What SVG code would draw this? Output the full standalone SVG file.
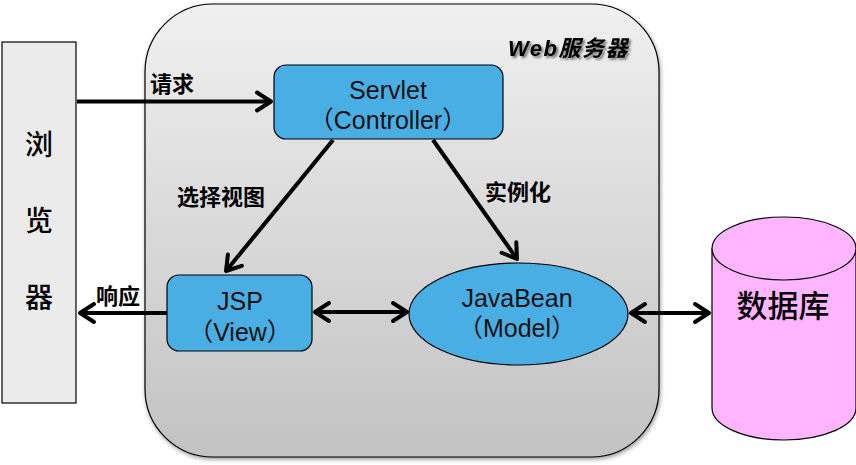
<svg xmlns="http://www.w3.org/2000/svg" width="856" height="465" viewBox="0 0 856 465">
<style>
.en{font-family:"Liberation Sans","Noto Sans CJK SC",sans-serif;font-size:25px;fill:#111;text-anchor:middle}
.cn{font-family:"Noto Sans CJK SC",sans-serif;font-weight:500;fill:#000;text-anchor:middle}
.lbl{font-family:"Noto Sans CJK SC",sans-serif;font-size:22px;font-weight:bold;fill:#000}
.blue{fill:#48AEE3;stroke:#000;stroke-width:1.2}
.conn{stroke:#000;stroke-width:4;fill:none}
</style>
<defs>
<linearGradient id="srv" x1="0" y1="0" x2="0" y2="1">
<stop offset="0" stop-color="#f0f0f0"/>
<stop offset="1" stop-color="#c2c2c2"/>
</linearGradient>
<filter id="sh" x="-10%" y="-10%" width="120%" height="120%">
<feGaussianBlur in="SourceAlpha" stdDeviation="2"/>
<feOffset dx="1" dy="2" result="b"/>
<feComponentTransfer><feFuncA type="linear" slope="0.4"/></feComponentTransfer>
<feMerge><feMergeNode/><feMergeNode in="SourceGraphic"/></feMerge>
</filter>
<filter id="tsh" x="-10%" y="-20%" width="120%" height="150%">
<feGaussianBlur in="SourceAlpha" stdDeviation="1"/>
<feOffset dx="1.5" dy="1.5"/>
<feComponentTransfer><feFuncA type="linear" slope="0.5"/></feComponentTransfer>
<feMerge><feMergeNode/><feMergeNode in="SourceGraphic"/></feMerge>
</filter>
<marker id="ah" markerUnits="userSpaceOnUse" markerWidth="22" markerHeight="24" viewBox="-18 -12 22 24" refX="0" refY="0" orient="auto-start-reverse">
<path d="M-14,-9 L0,0 L-14,9" fill="none" stroke="#000" stroke-width="4" stroke-linecap="round" stroke-linejoin="round"/>
</marker>
</defs>

<g id="browser">
<rect x="2" y="42" width="74" height="361" fill="#ebebeb" stroke="#000" stroke-width="1.2"/>
<text class="cn" x="39" y="155" font-size="28">浏</text>
<text class="cn" x="39" y="231" font-size="28">览</text>
<text class="cn" x="39" y="308" font-size="28">器</text>
</g>

<g id="webserver">
<rect x="145" y="4" width="514" height="453" rx="68" ry="68" fill="url(#srv)" stroke="#000" stroke-width="1.2" filter="url(#sh)"/>
<text x="508" y="56" font-family="'Liberation Sans','Noto Sans CJK SC',sans-serif" font-size="22" font-weight="bold" font-style="italic" letter-spacing="1.5" fill="#000" filter="url(#tsh)">Web服务器</text>
</g>

<g id="servlet">
<rect class="blue" x="274" y="65" width="229" height="74" rx="12" ry="12"/>
<text class="en" x="388" y="99">Servlet</text>
<text class="en" x="388" y="129">（Controller）</text>
</g>

<g id="jsp">
<rect class="blue" x="167" y="275" width="145" height="76" rx="12" ry="12"/>
<text class="en" x="240" y="310">JSP</text>
<text class="en" x="240" y="341">（View）</text>
</g>

<g id="javabean">
<ellipse class="blue" cx="518.5" cy="314" rx="109.5" ry="51"/>
<text class="en" x="517" y="307">JavaBean</text>
<text class="en" x="517" y="337">（Model）</text>
</g>

<g id="database">
<path d="M712,248.5 L712,408 A72,32 0 0 0 856,408 L856,248.5" fill="#ffb5ff" stroke="#000" stroke-width="1.2"/>
<ellipse cx="784" cy="248.5" rx="72" ry="31.5" fill="#ffb5ff" stroke="#000" stroke-width="1.2"/>
<text class="cn" x="783" y="317" font-size="31">数据库</text>
</g>

<g id="connectors">
<line class="conn" x1="77" y1="101.5" x2="271" y2="101.5" marker-end="url(#ah)"/>
<line class="conn" x1="167" y1="313" x2="80" y2="313" marker-end="url(#ah)"/>
<line class="conn" x1="333" y1="140" x2="226" y2="271" marker-end="url(#ah)"/>
<line class="conn" x1="433" y1="140" x2="517" y2="259" marker-end="url(#ah)"/>
<line class="conn" x1="315" y1="312" x2="407" y2="312" marker-start="url(#ah)" marker-end="url(#ah)"/>
<line class="conn" x1="631" y1="313" x2="709" y2="313" marker-start="url(#ah)" marker-end="url(#ah)"/>
<text class="lbl" x="150" y="92">请求</text>
<text class="lbl" x="96" y="304">响应</text>
<text class="lbl" x="177" y="205" font-size="23">选择视图</text>
<text class="lbl" x="485" y="200" font-size="23">实例化</text>
</g>
</svg>
